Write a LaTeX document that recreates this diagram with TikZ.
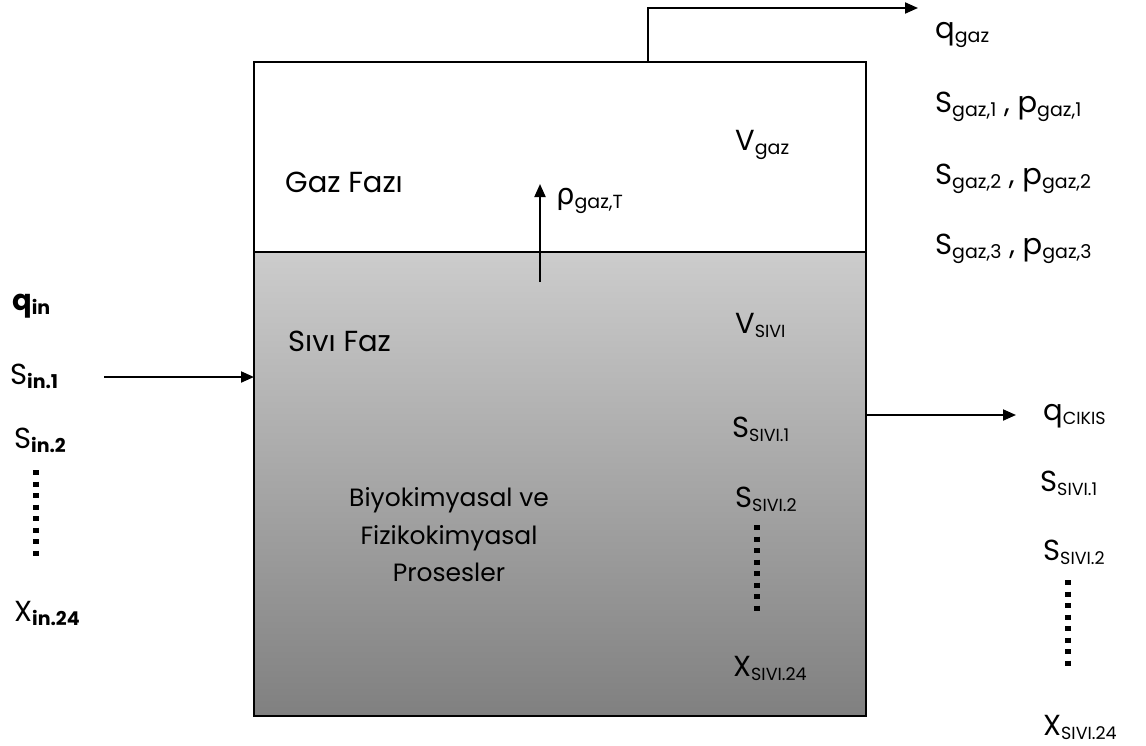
\documentclass[tikz,border=0pt]{standalone}
\usepackage{fontspec}
\setmainfont{Poppins}
\newfontfamily\grk{DejaVu Sans}
\usetikzlibrary{arrows.meta}
\definecolor{liqtop}{RGB}{204,204,204}
\definecolor{liqbot}{RGB}{128,128,128}
\newcommand\sbl[1]{\raisebox{-0.28ex}{\fontsize{19}{19}\selectfont #1}}
\newcommand\sbc[1]{\raisebox{-0.28ex}{\fontsize{17.5}{17.5}\selectfont #1}}
\begin{document}
\begin{tikzpicture}[x=1pt,y=-1pt,
  lbl/.style={anchor=base west, inner sep=0pt, font=\fontsize{29}{32}\selectfont},
  blbl/.style={lbl},
  ctr/.style={align=center, inner sep=0pt, font=\fontsize{25}{37.5}\selectfont},
  wall/.style={line width=2pt, draw=black},
  flow/.style={line width=2pt, -{Triangle[length=13pt,width=11pt]}},
  dotcol/.style={line width=5.5pt, dash pattern=on 5pt off 6.5pt}]
\useasboundingbox (0,0) rectangle (1146,745);
% tank
\coordinate (tl) at (254,62);
\coordinate (tr) at (866,62);
\coordinate (il) at (254,252);
\coordinate (ir) at (866,252);
\coordinate (bl) at (254,716);
\coordinate (br) at (866,716);
\shade[top color=liqtop, bottom color=liqbot] (il) rectangle (br);
\draw[wall] (tl) rectangle (br);
\draw[wall] (il) -- (ir);
% gas outlet
\coordinate (gout) at (648,62);
\coordinate (gcorner) at (648,8);
\coordinate (gend) at (918,8);
\draw[flow] (gout) -- (gcorner) -- (gend);
% interface arrow
\coordinate (rs) at (540,282);
\coordinate (re) at (540,184);
\draw[flow] (rs) -- (re);
% inlet
\coordinate (ins) at (104,377);
\coordinate (ine) at (254,377);
\draw[flow] (ins) -- (ine);
% outlet
\coordinate (outs) at (866,415);
\coordinate (oute) at (1016,415);
\draw[flow] (outs) -- (oute);
% labels inside
\node[lbl] (gazfaz) at (285,192) {Gaz Faz\i};
\node[lbl] (sivifaz) at (288,351) {S\i v\i{} Faz};
\node[lbl] (vgaz) at (735,150) {V\sbl{gaz}};
\node[lbl] (vsivi) at (735,333) {V\sbc{SIVI}};
\node[lbl] (rho) at (556,204) {{\grk ρ}\sbl{gaz,T}};
\node[ctr] (proc) at (449,535) {Biyokimyasal ve\\Fizikokimyasal\\Prosesler};
\node[lbl] (ss1) at (732,437) {S\sbc{SIVI.1}};
\node[lbl] (ss2) at (735,507) {S\sbc{SIVI.2}};
\node[lbl] (xs24) at (733,676) {X\sbc{SIVI.24}};
\draw[dotcol] (757,525) -- (757,614);
% outlet labels
\node[lbl] (qcik) at (1043,420) {q\sbc{CIKIS}};
\node[lbl] (os1) at (1040,491) {S\sbc{SIVI.1}};
\node[lbl] (os2) at (1043,560) {S\sbc{SIVI.2}};
\node[lbl] (ox24) at (1043,735) {X\sbc{SIVI.24}};
\draw[dotcol] (1068,580) -- (1068,668);
% gas labels
\node[lbl] (qgaz) at (935,38) {q\sbl{gaz}};
\node[lbl] (sg1) at (935,112) {S\sbl{gaz,1} , p\sbl{gaz,1}};
\node[lbl] (sg2) at (935,184) {S\sbl{gaz,2} , p\sbl{gaz,2}};
\node[lbl] (sg3) at (935,254) {S\sbl{gaz,3} , p\sbl{gaz,3}};
% inlet labels
\node[blbl] (qin) at (12,310) {\bfseries q\sbl{in}};
\node[blbl] (sin1) at (10,384) {S\sbl{\bfseries in.1}};
\node[blbl] (sin2) at (14,448) {S\sbl{\bfseries in.2}};
\node[blbl] (xin24) at (14,621) {X\sbl{\bfseries in.24}};
\draw[dotcol] (36,470) -- (36,558);
\end{tikzpicture}
\end{document}
